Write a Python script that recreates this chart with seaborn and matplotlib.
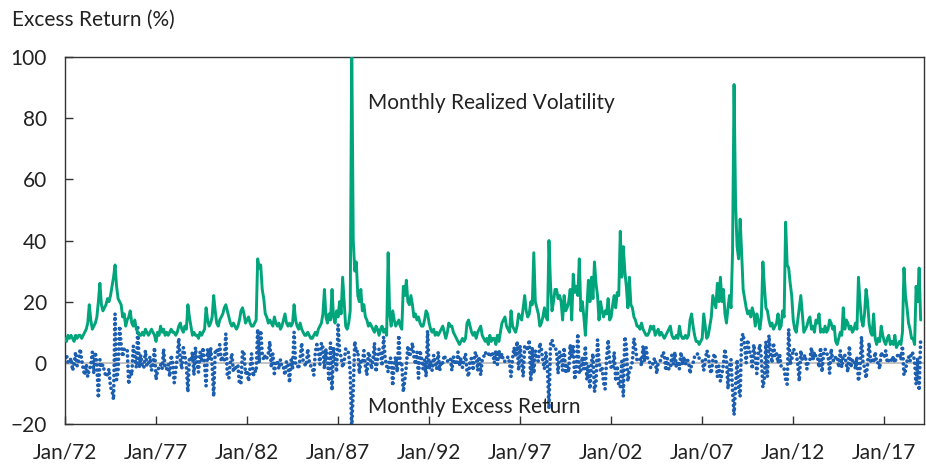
import numpy as np
import pandas as pd
import matplotlib
matplotlib.use("Agg")
import matplotlib.pyplot as plt
import seaborn as sns

# Monthly realized volatility (%), Jan 1972 .. Jan 2019
vol_1970s = [
    8, 7, 9, 8, 9, 8, 7, 9, 8, 9, 9, 8,             # 1972
    9, 10, 11, 13, 19, 14, 11, 12, 13, 15, 20, 26,  # 1973
    19, 17, 18, 19, 21, 20, 22, 25, 28, 32, 25, 21, # 1974
    20, 19, 15, 16, 12, 14, 15, 17, 13, 12, 14, 11, # 1975
    10, 9, 9, 10, 9, 11, 10, 9, 10, 11, 10, 9,      # 1976
    7, 10, 9, 12, 10, 11, 9, 10, 9, 10, 11, 10,     # 1977
    10, 9, 10, 12, 13, 11, 10, 12, 11, 19, 15, 12,  # 1978
    9, 10, 9, 9, 8, 10, 9, 10, 11, 18, 14, 12,      # 1979
]
vol_1980s = [
    13, 15, 22, 17, 13, 12, 14, 15, 16, 18, 19, 17,  # 1980
    15, 13, 12, 13, 12, 11, 12, 14, 17, 18, 16, 13,  # 1981
    14, 15, 13, 12, 12, 13, 14, 34, 31, 32, 24, 21,  # 1982
    16, 15, 13, 14, 13, 12, 15, 13, 12, 13, 11, 12,  # 1983
    14, 16, 13, 12, 13, 12, 13, 19, 14, 12, 11, 13,  # 1984
    11, 10, 9, 9, 10, 9, 8, 8, 9, 10, 9, 11,         # 1985
    12, 13, 16, 24, 15, 13, 16, 14, 24, 15, 13, 17,  # 1986
    15, 20, 16, 28, 20, 12, 11, 13, 17, 105, 40, 30, # 1987
    33, 22, 20, 24, 17, 19, 15, 14, 12, 13, 12, 11,  # 1988
    10, 12, 11, 9, 11, 12, 10, 11, 9, 36, 16, 12,    # 1989
]
vol_1990s = [
    17, 14, 12, 13, 14, 12, 11, 25, 22, 27, 20, 19,  # 1990
    22, 19, 15, 16, 14, 15, 13, 12, 12, 14, 17, 16,  # 1991
    13, 11, 10, 11, 9, 10, 9, 10, 11, 12, 10, 8,     # 1992
    10, 13, 12, 12, 10, 9, 8, 7, 6, 7, 8, 7,         # 1993
    8, 13, 14, 12, 10, 9, 10, 8, 10, 11, 12, 9,      # 1994
    8, 7, 8, 6, 9, 7, 8, 8, 6, 9, 7, 10,             # 1995
    13, 14, 15, 12, 11, 10, 17, 12, 11, 10, 12, 16,  # 1996
    15, 14, 18, 22, 17, 15, 16, 20, 19, 36, 20, 18,  # 1997
    16, 12, 13, 15, 18, 15, 14, 40, 26, 17, 20, 24,  # 1998
    24, 21, 22, 20, 14, 22, 17, 18, 20, 24, 14, 29,  # 1999
]
vol_2000s = [
    23, 25, 22, 34, 17, 20, 15, 9, 18, 27, 20, 28,   # 2000
    21, 33, 26, 22, 14, 20, 17, 15, 17, 16, 21, 14,  # 2001
    15, 19, 22, 18, 23, 22, 43, 28, 38, 30, 25, 18,  # 2002
    28, 19, 18, 15, 14, 12, 12, 11, 13, 11, 10, 9,   # 2003
    9, 10, 12, 11, 12, 9, 10, 11, 9, 10, 9, 8,       # 2004
    9, 10, 11, 12, 9, 8, 8, 9, 8, 12, 9, 8,          # 2005
    8, 9, 8, 9, 14, 16, 12, 9, 7, 7, 6, 7,           # 2006
    8, 16, 12, 8, 9, 12, 15, 22, 20, 18, 26, 20,     # 2007
    28, 20, 24, 16, 13, 18, 22, 18, 36, 91, 52, 38,  # 2008
    34, 47, 36, 24, 21, 18, 16, 17, 15, 18, 16, 12,  # 2009
]
vol_2010s = [
    16, 14, 11, 15, 33, 25, 18, 17, 14, 12, 13, 11,  # 2010
    12, 13, 16, 11, 12, 17, 15, 46, 32, 31, 26, 22,  # 2011
    14, 11, 10, 14, 18, 22, 16, 10, 11, 12, 14, 15,  # 2012
    11, 12, 10, 14, 13, 16, 10, 11, 10, 12, 10, 11,  # 2013
    14, 13, 11, 12, 7, 6, 8, 10, 9, 18, 11, 14,      # 2014
    13, 11, 12, 10, 11, 13, 11, 28, 20, 14, 12, 16,  # 2015
    24, 20, 13, 10, 9, 16, 8, 6, 8, 7, 12, 9,        # 2016
    7, 6, 8, 9, 6, 7, 6, 9, 5, 6, 7, 6,              # 2017
    10, 31, 22, 18, 13, 11, 8, 8, 6, 25, 20, 31,     # 2018
    14,                                              # 2019
]

# Monthly excess return (%), Jan 1972 .. Jan 2019
ret_1970s = [
    1.5, 2.5, 0.2, 0.1, 1.5, -2.5, -0.5, 3.5, -1, 0.5, 4.5, 1,
    -2, -4, -0.5, -4.5, -2, -1, 3.5, -3.5, 3.5, -0.5, -11.5, 1,
    -1.5, -0.6, -2.8, -4.5, -3.8, -2, -8, -9, -12, 16, -5.5, -2.5,
    12, 6, 2, 4.5, 4.5, 4.5, -7, -2.5, -4, 5.5, 2.5, -1.5,
    11.5, -1.5, 2.5, -1.5, -1.5, 4, -1, -0.5, 2, -2.5, -0.5, 5,
    -5.5, -2.5, -1.5, -0.5, -2, 4.5, -2, -2, -0.5, -4.5, 2.5, 0,
    -6.5, -2.5, 2, 8, 1, -2, 5, 2.5, -1, -9.5, 1.5, 1,
    3.5, -4, 5, -0.5, -3, 3.5, 0.5, 5, -0.5, -7.5, 4.5, 1,
]
ret_1980s = [
    5, -1, -11, 3.5, 4.5, 2.5, 6, 0.5, 2, 1, 9.5, -4.5,
    -5, 0.5, 3, -3, -1, -2, -1, -7, -6.5, 4, 3, -3.5,
    -2.5, -6, -1.5, 3, -4.5, -2.5, -3, 11, 0, 10.5, 3, 1,
    2.5, 1.5, 3, 7, -1.5, 3, -3.5, 0.5, 0.5, -2, 1, -1.5,
    -1.5, -4, 0.5, -0.5, -6.5, 1, -2, 10, -0.5, -0.5, -2, 1.5,
    6.5, 0.5, -0.5, -1, 4.5, 0.5, -1, -1.5, -4, 3.5, 6, 4,
    -0.5, 6.5, 5, -2, 4.5, 1, -6, 6.5, -9, 5, 1.5, -3,
    12.5, 3.5, 2, -1.5, 0.5, 4.5, 4.5, 3, -3, -22, -8.5, 7,
    3.5, 4, -3.5, 0.5, 0, 4, -1, -4, 3.5, 2, -2, 1,
    6.5, -3, 1.5, 4.5, 3.5, -1, 8.5, 1.5, -1, -3, 1.5, 1.5,
]
ret_1990s = [
    -7.5, 0.5, 2, -3, 9, -1, -0.5, -9.5, -5.5, -1, 5.5, 2,
    3.5, 6.5, 2, -0.5, 3.5, -5, 4, 1.5, -2, 1, -4.5, 10.5,
    -2, 0.5, -2.5, 2.5, 0, -2, 3.5, -2.5, 0.5, 0, 2.5, 1,
    0.5, 1, 1.5, -2.5, 2, 0, -0.5, 3.5, -1, 1.5, -1.5, 1,
    3, -3, -4.5, 1, 1.5, -2.5, 3, 3.5, -2.5, 2, -4, 1,
    2, 3.5, 2.5, 2.5, 3.5, 2, 3, 0, 4, -0.5, 4, 1.5,
    3, 0.5, 0.5, 1, 2, 0, -4.5, 1.5, 5, 2, 7, -2.5,
    5.5, 0.5, -4.5, 5.5, 5.5, 4, 7.5, -6, 5, -3.5, 4, 1.5,
    0.5, 6.5, 4.5, 0.5, -2, 3.5, -1.5, -15, 6, 7.5, 5.5, 5.5,
    3.5, -3.5, 3.5, 3.5, -2.5, 5, -3.5, -1, -3, 6, 1.5, 5.5,
]
ret_2000s = [
    -5.5, -2.5, 9.5, -3.5, -2.5, 2, -2, 5.5, -5.5, -1, -8.5, 0,
    3, -9.5, -6.5, 7.5, 0.5, -2.5, -1.5, -6.5, -8.5, 1.5, 7.5, 0.5,
    -1.5, -2, 3.5, -6, -1, -7.5, -8, 0.5, -11, 8.5, 5.5, -6,
    -2.5, -1.5, 0.5, 8, 5, 1, 1.5, 1.5, -1, 5.5, 0.5, 5,
    1.5, 1, -1.5, -1.5, 1, 1.5, -3.5, 0, 0.5, 1, 3.5, 3,
    -2.5, 1.5, -2, -2, 2.5, -0.5, 3.5, -1.5, 0.5, -2, 3.5, -0.5,
    2, -0.5, 1, 0.5, -3.5, -0.5, 0, 2, 2, 3, 1.5, 1,
    1, -2.5, 0.5, 4, 3, -2, -3.5, 1, 3, 1, -4.5, -1,
    -6, -3.5, -0.5, 4.5, 1, -8.5, -1, 1, -9, -17, -7.5, 1,
    -8.5, -11, 8.5, 9.5, 5.5, 0, 7.5, 3.5, 3.5, -2, 6, 2,
]
ret_2010s = [
    -3.5, 3, 6, 1.5, -8, -5.5, 7, -4.5, 9, 3.5, 0, 6.5,
    2, 3, 0, 3, -1, -2, -2, -5.5, -7, 11, -0.5, 1,
    4.5, 4, 3, -0.5, -6, 4, 1, 2, 2.5, -2, 0.5, 1,
    5, 1, 3.5, 2, 2, -1.5, 5, -3, 3, 4.5, 3, 2.5,
    -3.5, 4.5, 1, 0.5, 2, 2, -1.5, 4, -1.5, 2.5, 2.5, -0.5,
    -3, 5.5, -1.5, 1, 1, -2, 2, -6, -2.5, 8.5, 0, -1.5,
    -5, -0.5, 6.5, 0.5, 1.5, 0, 3.5, 0, 0, -2, 3.5, 2,
    2, 4, 0, 1, 1.5, 0.5, 2, 0, 2, 2.5, 3, 1,
    5.5, -4, -2.5, 0.5, 2, 0.5, 3.5, 3, 0.5, -7, 1.5, -9,
    8,
]

tick_labels = ["Jan/72", "Jan/77", "Jan/82", "Jan/87", "Jan/92",
               "Jan/97", "Jan/02", "Jan/07", "Jan/12", "Jan/17"]
y_ticks = [-20, 0, 20, 40, 60, 80, 100]

vol = vol_1970s + vol_1980s + vol_1990s + vol_2000s + vol_2010s
ret = ret_1970s + ret_1980s + ret_1990s + ret_2000s + ret_2010s
n = min(len(vol), len(ret))
df = pd.DataFrame({"month": np.arange(n), "vol": vol[:n], "ret": ret[:n]})

sns.set_theme(style="white")
plt.rcParams["font.family"] = ["Lato", "DejaVu Sans"]

GREEN = "#00a57b"
BLUE = "#1c5fb0"
TXT = "#222222"
FS = 15

fig = plt.figure(figsize=(9.26, 4.65), dpi=100)
ax = fig.add_axes([65 / 926, 1 - 424 / 465, (924 - 65) / 926, (424 - 57) / 465])

ax.axhline(0, color="#b8b8b8", lw=1.2, zorder=1)
sns.lineplot(data=df, x="month", y="ret", ax=ax, color=BLUE, lw=2.7,
             linestyle=(0, (0.01, 1.35)), dash_capstyle="round", zorder=2)
sns.lineplot(data=df, x="month", y="vol", ax=ax, color=GREEN, lw=2.1, zorder=3)

ax.set_xlim(0, 566.2)
ax.set_ylim(-20, 100)
ax.set_xticks(np.arange(len(tick_labels)) * 60)
ax.set_xticklabels(tick_labels)
ax.set_yticks(y_ticks)
ax.set_yticklabels([str(v) if v >= 0 else "\u2212" + str(-v) for v in y_ticks])
ax.set_xlabel("")
ax.set_ylabel("")

for s in ax.spines.values():
    s.set_color("#333333")
    s.set_linewidth(1.0)
ax.tick_params(axis="x", direction="in", length=6, width=1, color="#333333",
               labelsize=FS, labelcolor=TXT, pad=13, bottom=True, top=False)
ax.tick_params(axis="y", direction="in", length=6, width=1, color="#333333",
               labelsize=FS, labelcolor=TXT, pad=13, left=True, right=False)

ax.text(200, 85, "Monthly Realized Volatility", fontsize=FS, color=TXT,
        va="center", ha="left")
ax.text(200, -14.5, "Monthly Excess Return", fontsize=FS, color=TXT,
        va="center", ha="left")
fig.text(12 / 926, 1 - 20 / 465, "Excess Return (%)", fontsize=FS, color=TXT,
         va="center", ha="left")

fig.savefig("out.png", dpi=100)
